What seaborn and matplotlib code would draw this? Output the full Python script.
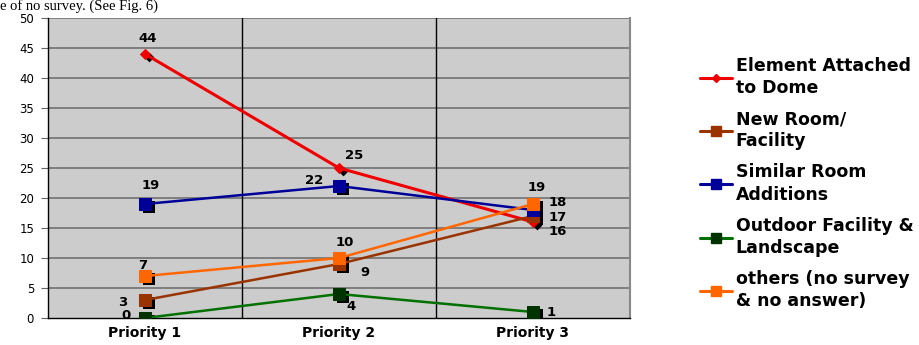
import numpy as np
import pandas as pd
import matplotlib
matplotlib.use("Agg")
import matplotlib.pyplot as plt
import matplotlib.transforms as mtransforms
from matplotlib.lines import Line2D
import seaborn as sns

# ---- data ----
categories = ["Priority 1", "Priority 2", "Priority 3"]
series_names = ["Element Attached\nto Dome", "New Room/\nFacility", "Similar Room\nAdditions",
                "Outdoor Facility &\nLandscape", "others (no survey\n& no answer)"]
element_attached = [44, 25, 16]
new_room = [3, 9, 17]
similar_room = [19, 22, 18]
outdoor = [0, 4, 1]
others = [7, 10, 19]
y_ticks = [0, 5, 10, 15, 20, 25, 30, 35, 40, 45, 50]
header_text = "e of no survey. (See Fig. 6)"

series_values = [element_attached, new_room, similar_room, outdoor, others]
line_colors = ["#f00000", "#993300", "#000099", "#007000", "#ff6600"]
marker_colors = ["#f00000", "#993300", "#000099", "#003300", "#ff6600"]
markers = ["D", "s", "s", "s", "s"]
marker_sizes = [5, 8, 8, 8, 8]
# label offsets (points) per series per category
label_offsets = [
    [(2, 11.5), (11, 9), (18, -7)],
    [(-16, -1.5), (19, -6), (18, -0.8)],
    [(4, 13), (-18, 4), (18, 5.2)],
    [(-14, 2), (9, -9), (13, 0)],
    [(-1.5, 7.5), (4, 11), (3, 12)],
]

sns.set_theme(style="white")
plt.rcParams['font.family'] = ['DejaVu Sans']
plt.rcParams['text.color'] = 'black'
plt.rcParams['xtick.color'] = 'black'
plt.rcParams['ytick.color'] = 'black'

fig = plt.figure(figsize=(9.19, 3.45), dpi=100)
ax = fig.add_axes([48/919, 27/345, (630-48)/919, 300/345])
ax.set_facecolor("#cccccc")

rows = []
for name, vals in zip(series_names, series_values):
    for i, v in enumerate(vals):
        rows.append({"series": name, "x": i, "value": v})
df = pd.DataFrame(rows)

shadow = mtransforms.offset_copy(ax.transData, fig=fig, x=4, y=-3, units="dots")
for k, name in enumerate(series_names):
    sub = df[df.series == name]
    # black shadow markers
    sns.scatterplot(data=sub, x="x", y="value", ax=ax, marker=markers[k],
                    color="black", s=(marker_sizes[k] ** 2), linewidth=0,
                    transform=shadow, zorder=3, legend=False)
    sns.lineplot(data=sub, x="x", y="value", ax=ax, color=line_colors[k],
                 lw=2.2 if k == 0 else 1.8, marker=markers[k], markersize=marker_sizes[k],
                 markerfacecolor=marker_colors[k], markeredgecolor=marker_colors[k],
                 zorder=4, legend=False)
    for i, v in enumerate(series_values[k]):
        dx, dy = label_offsets[k][i]
        ax.annotate(str(v), (i, v), xytext=(dx, dy), textcoords="offset points",
                    ha="center", va="center", fontsize=9.5, fontweight="bold", color="black",
                    zorder=6)

ax.set_xlim(-0.5, 2.5)
ax.set_ylim(0, 50)
ax.set_yticks(y_ticks)
ax.set_yticklabels([str(t) for t in y_ticks], fontsize=8.5)
ax.set_xticks(range(len(categories)))
ax.set_xticklabels(categories, fontsize=10, fontweight="bold")
ax.set_xlabel("")
ax.set_ylabel("")
for t in y_ticks[1:]:
    ax.axhline(t, color="#6a6a6a", lw=1.1, zorder=1)
for xb in [0.5, 1.5]:
    ax.axvline(xb, color="black", lw=1.0, zorder=1)
ax.tick_params(axis="y", length=5, width=0.8, color="#666666", pad=5, left=True)
ax.tick_params(axis="x", length=0, pad=6, bottom=False)
for s in ["left", "bottom"]:
    ax.spines[s].set_color("black")
    ax.spines[s].set_linewidth(1.0)
ax.spines["top"].set_visible(False)
ax.spines["right"].set_color("#888888")
ax.spines["right"].set_linewidth(1.5)

handles = [Line2D([0], [0], color=line_colors[k], lw=2.2, marker=markers[k],
                  markersize=marker_sizes[k] - 1, markerfacecolor=marker_colors[k],
                  markeredgecolor=marker_colors[k]) for k in range(5)]
leg = fig.legend(handles, series_names, loc="upper left", bbox_to_anchor=(700/919, 1 - 57/345),
                 frameon=False, prop={"size": 12.5, "weight": "bold"}, handlelength=1.85,
                 handletextpad=0.2, labelspacing=0.75, borderaxespad=0, borderpad=0)
for t in leg.get_texts():
    t.set_linespacing(1.3)
    t.set_color("black")

fig.text(0.0, 1 - 10/345, header_text, fontsize=10.5, family="Liberation Serif",
         ha="left", va="baseline", color="black")

fig.savefig("out.png", dpi=100)
